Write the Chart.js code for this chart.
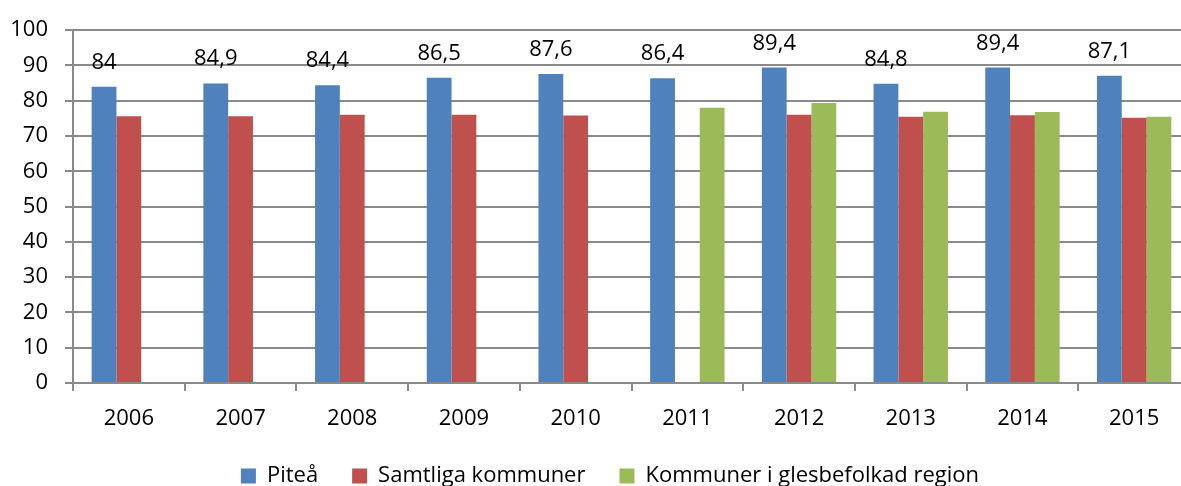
<!DOCTYPE html>
<html>
<head>
<meta charset="utf-8">
<script src="https://cdn.jsdelivr.net/npm/chart.js@4/dist/chart.umd.min.js"></script>
<style>
  html,body{margin:0;padding:0;background:#fff;overflow:hidden;}
  #wrap{width:1220px;height:497px;}
</style>
</head>
<body>
<div id="wrap"><canvas id="graph" width="1220" height="497"></canvas></div>
<script>
const years=['2006','2007','2008','2009','2010','2011','2012','2013','2014','2015']
const pitea=[84,84.9,84.4,86.5,87.6,86.4,89.4,84.8,89.4,87.1]
const samtliga=[75.6,75.6,76.0,76.0,75.8,null,76.0,75.5,75.9,75.2]
const glesbygd=[null,null,null,null,null,78.0,79.4,76.9,76.8,75.5]
const seriesNames=['Piteå','Samtliga kommuner','Kommuner i glesbefolkad region']
const yTicks=[0,10,20,30,40,50,60,70,80,90,100]

const gridGray='#8a8a8a'
const font={family:'Open Sans',size:22}

// value labels above the Piteå bars, Swedish decimal comma
const valueLabels={
    id:'valueLabels',
    afterDatasetsDraw(chart){
        const ctx=chart.ctx
        const meta=chart.getDatasetMeta(0)
        ctx.save()
        ctx.font='22px "Open Sans"'
        ctx.fillStyle='#000'
        ctx.textAlign='center'
        ctx.textBaseline='alphabetic'
        meta.data.forEach((bar,i)=>{
            ctx.fillText(String(pitea[i]).replace('.',','),bar.x,bar.y-18)
        })
        ctx.restore()
    }
}

Chart.defaults.font.family='Open Sans'
Chart.defaults.color='#000'

new Chart('graph',{
    type:'bar',
    data:{
        labels:years,
        datasets:[
            {label:seriesNames[0],data:pitea,backgroundColor:'#4F81BD'},
            {label:seriesNames[1],data:samtliga,backgroundColor:'#C0504D'},
            {label:seriesNames[2],data:glesbygd,backgroundColor:'#9BBB59'}
        ]
    },
    options:{
        responsive:false,
        animation:false,
        devicePixelRatio:1,
        categoryPercentage:0.666,
        barPercentage:1,
        layout:{padding:{top:23,left:0,right:0,bottom:0}},
        plugins:{
            tooltip:{enabled:false},
            legend:{
                position:'bottom',
                labels:{boxWidth:15,boxHeight:15,padding:34,font:font,color:'#000'}
            }
        },
        scales:{
            x:{
                grid:{display:true,drawOnChartArea:false,drawTicks:true,tickLength:8,offset:true,color:gridGray,lineWidth:2},
                border:{color:gridGray,width:2},
                ticks:{font:font,color:'#000',padding:15,maxRotation:0},
                afterFit(s){s.height=48}
            },
            y:{
                min:0,max:100,
                afterBuildTicks(s){s.ticks=yTicks.map(v=>({value:v}))},
                grid:{color:gridGray,lineWidth:2,tickLength:8},
                border:{color:gridGray,width:2},
                ticks:{font:font,color:'#000',padding:17},
                afterFit(s){s.width=73}
            },
            yRight:{
                position:'right',
                display:true,
                grid:{display:false},
                border:{display:false},
                ticks:{display:false},
                afterFit(s){s.width=30}
            }
        }
    },
    plugins:[valueLabels]
})
</script>
</body>
</html>
